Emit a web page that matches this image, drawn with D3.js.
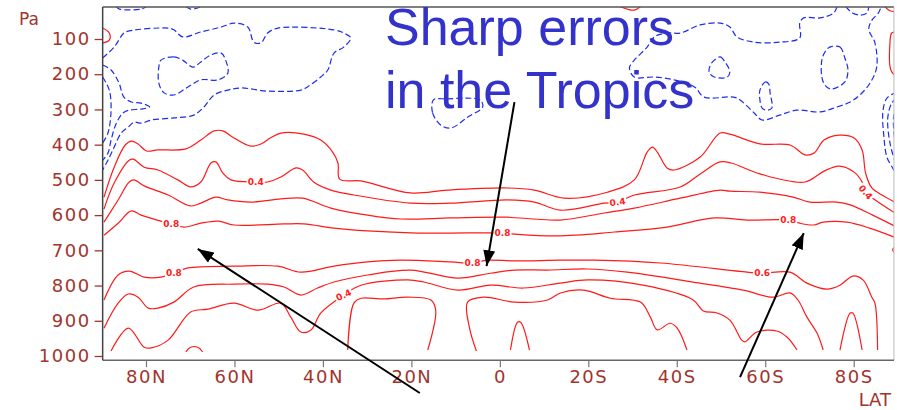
<!DOCTYPE html>
<html>
<head>
<meta charset="utf-8">
<script src="https://cdn.jsdelivr.net/npm/d3@7"></script>
<style>
  body { margin: 0; background: #fff; }
  svg { display: block; }
</style>
</head>
<body>
<svg width="897" height="410"></svg>
<script>
// axis ticks
const xTickValues = [80, 60, 40, 20, 0, -20, -40, -60, -80];
const xTickLabels = ['80N', '60N', '40N', '20N', '0', '20S', '40S', '60S', '80S'];
const yTickValues = [100, 200, 300, 400, 500, 600, 700, 800, 900, 1000];

// positive contours, [lat (N>0), pressure hPa]
const red02 = [[89.5,549],[87.2,464],[84.7,401],[83.3,390],[81.8,398],[79.9,418],[77.3,415],[71.0,412],[67.6,387],[64.6,361],[62.6,361],[60.1,381],[56.3,404],[54.0,398],[51.9,381],[49.5,367],[44.3,370],[40.5,387],[37.8,421],[36.6,452],[36.2,498],[31.4,503],[20.2,537],[11.8,529],[-1.7,523],[-7.8,529],[-14.6,552],[-24.3,535],[-30.4,500],[-33.3,421],[-34.5,407],[-35.6,421],[-37.8,466],[-39.4,472],[-45.3,435],[-49.8,367],[-52.0,370],[-58.8,398],[-65.6,401],[-69.0,429],[-71.0,424],[-73.3,387],[-76.7,373],[-80.1,381],[-81.9,415],[-82.7,481],[-84.1,523],[-86.8,546],[-89.7,566]];
const red04 = [[89.5,583],[87.2,509],[83.8,444],[82.9,441],[80.4,464],[77.3,472],[72.8,500],[69.9,520],[67.6,506],[65.3,452],[64.2,449],[62.6,481],[60.8,500],[55.2,506],[52.5,506],[49.5,492],[46.1,466],[44.6,472],[42.1,506],[38.2,529],[33.0,543],[20.2,566],[11.1,566],[-1.7,557],[-7.8,563],[-13.7,586],[-23.6,566],[-26.6,563],[-30.4,543],[-40.8,520],[-45.3,483],[-49.8,449],[-52.3,452],[-58.8,483],[-69.0,506],[-73.3,475],[-76.7,461],[-80.1,478],[-81.9,506],[-82.7,535],[-85.2,560],[-89.7,597]];
const red06 = [[89.5,620],[86.3,557],[83.8,506],[82.7,500],[80.4,517],[75.0,543],[69.9,574],[67.6,566],[64.2,549],[61.5,557],[56.3,563],[49.5,554],[44.6,552],[38.2,580],[29.9,600],[22.4,611],[11.1,608],[-1.7,606],[-7.8,611],[-13.7,614],[-23.6,594],[-30.4,580],[-40.8,552],[-49.8,529],[-52.0,532],[-58.8,535],[-66.3,549],[-70.1,563],[-76.2,563],[-79.2,571],[-84.3,600],[-89.7,634]];
const red08a = [[89.5,657],[86.3,623],[83.3,588],[81.1,600],[74.3,625],[71.4,634],[67.6,623],[63.7,617],[60.1,628],[48.8,625],[44.3,625],[37.5,637],[29.9,645],[18.6,651],[11.1,651],[-0.6,651],[-3.3,654],[-13.0,659],[-25.9,648],[-37.8,634],[-48.5,608],[-55.9,614],[-65.2,614],[-67.8,623],[-71.0,628],[-73.1,620],[-78.5,620],[-83.6,637],[-89.7,665]];
const red08b = [[89.5,841],[86.3,770],[83.8,759],[80.4,776],[76.6,776],[73.7,765],[70.5,750],[60.1,745],[50.2,745],[45.0,762],[37.5,745],[29.9,733],[22.4,728],[11.1,733],[6.2,736],[2.8,728],[-3.3,730],[-13.7,728],[-21.4,728],[-36.3,736],[-55.9,762],[-59.3,765],[-65.6,762],[-69.4,793],[-74.0,810],[-76.9,799],[-79.8,773],[-82.1,784],[-84.1,833],[-84.8,850],[-85.4,983]];
const red06b = [[89.5,921],[86.3,850],[84.0,824],[81.8,833],[79.5,864],[77.3,864],[73.7,847],[69.2,804],[60.1,796],[52.5,796],[48.8,804],[45.0,827],[41.2,807],[37.5,790],[29.9,770],[20.2,756],[9.5,779],[2.1,765],[-3.3,756],[-10.8,756],[-19.8,753],[-28.8,762],[-43.7,790],[-55.0,813],[-61.8,833],[-65.6,821],[-67.4,841],[-69.4,889],[-71.7,935],[-73.1,983]];
const red04b = [[87.9,986],[84.0,921],[80.4,975],[78.8,977],[75.0,955],[69.9,875],[66.0,867],[60.1,850],[54.7,870],[49.5,850],[47.3,889],[45.0,932],[42.7,926],[40.5,878],[35.3,827],[31.4,799],[20.8,784],[17.2,790],[9.5,813],[2.1,799],[-5.3,807],[-13.7,793],[-19.8,784],[-32.4,799],[-43.7,841],[-46.0,872],[-49.1,878],[-52.0,898],[-54.7,955],[-55.4,960],[-58.1,932],[-62.6,929],[-64.9,946],[-67.2,983]];
const red02s = [[5.3,986],[6.9,918],[7.3,847],[3.7,833],[-3.3,847],[-10.8,841],[-13.7,821],[-18.9,813],[-25.0,836],[-31.8,847],[-34.0,889],[-35.6,926],[-38.5,907],[-40.1,921],[-42.3,983]];
const red02n = [[34.4,983],[33.0,850],[31.4,836],[26.3,838],[20.8,833],[15.6,841],[14.5,870],[16.3,983]];
const redEq = [[-2.4,983],[-4.0,904],[-4.7,904],[-6.7,983]];
const red80S = [[-76.9,983],[-79.2,878],[-79.8,878],[-81.9,983]];
const red68N = [[71.0,988],[69.9,975],[68.3,975],[67.2,988]];
const redEdgeL = [[89.8,69],[88.3,83],[88.3,103],[89.8,111]];
const redTop = [[-27.2,8],[-30.4,18],[-31.8,8]];
const redCorner = [[-87.0,8],[-88.2,20],[-89.7,23]];
const redEdgeR = [[-89.7,80],[-88.6,83],[-88.2,111],[-88.4,188],[-89.7,208]];
const redEdgeR2 = [[-89.7,685],[-88.8,699],[-89.7,711]];

// negative contours (dashed)
const blueNW = [[89.8,154],[87.2,123],[85.0,83],[83.8,77],[75.0,69],[73.7,74],[71.7,94],[67.6,80],[63.0,66],[60.1,55],[57.0,66],[55.6,109],[54.0,111],[52.5,83],[50.2,69],[37.5,74],[35.3,83],[33.7,97],[35.3,123],[37.5,140],[38.9,188],[40.5,208],[43.5,236],[45.0,245],[52.5,248],[58.5,239],[61.5,245],[64.6,259],[66.9,293],[69.2,316],[73.7,324],[78.8,330],[81.1,339],[82.7,336],[84.0,350],[85.6,367],[87.2,407],[88.6,444],[89.8,472]];
const blueNW2 = [[89.8,174],[87.9,188],[86.1,225],[85.0,265],[83.3,279],[81.1,282],[79.2,293],[81.1,299],[83.8,302],[85.2,310],[86.7,339],[87.9,387],[88.6,424],[89.8,444]];
const blueNW3 = [[89.8,208],[88.3,245],[87.9,302],[88.6,367],[89.8,395]];
const blueNWloop = [[76.6,160],[73.7,151],[71.7,160],[69.4,180],[67.6,165],[65.3,145],[63.0,140],[62.0,160],[61.5,197],[63.7,216],[67.6,216],[70.5,236],[73.7,259],[75.9,253],[77.1,225],[77.1,180]];
const blueTop1 = [[86.7,8],[86.0,15],[81.1,15],[79.9,8]];
const blueTop2 = [[71.0,8],[69.9,15],[68.3,12],[67.6,8]];
const blueEqLoop = [[15.0,273],[15.2,310],[13.4,344],[11.1,353],[7.3,322],[3.9,293],[4.4,273],[7.3,268],[11.8,270]];
const blueSH = [[-76.2,8],[-75.5,26],[-72.4,40],[-68.7,40],[-67.8,55],[-67.8,97],[-63.3,109],[-57.5,109],[-53.6,94],[-52.0,66],[-49.8,55],[-45.3,60],[-40.8,83],[-37.8,83],[-34.9,94],[-33.3,123],[-30.4,160],[-29.3,182],[-30.4,208],[-34.9,208],[-39.4,216],[-44.0,236],[-46.2,265],[-52.9,265],[-54.3,273],[-57.5,310],[-59.3,330],[-63.3,316],[-67.2,302],[-72.4,307],[-76.2,293],[-79.2,279],[-81.4,259],[-83.7,225],[-85.2,180],[-84.8,111],[-83.4,72],[-84.2,45],[-85.6,26],[-86.2,8]];
const blueTri = [[-48.5,160],[-49.8,151],[-50.9,165],[-52.0,194],[-51.4,208],[-48.5,208],[-47.3,194],[-47.6,174]];
const blueNarrow = [[-58.8,245],[-60.0,222],[-60.8,228],[-61.1,253],[-61.5,296],[-60.4,302],[-59.3,296],[-58.8,273]];
const blueOval = [[-74.6,123],[-76.9,123],[-78.0,154],[-78.7,188],[-78.0,222],[-74.8,242],[-73.5,231],[-72.8,208],[-72.8,160],[-73.5,137]];
const blueTopR = [[-78.2,8],[-79.7,26],[-81.6,32],[-83.0,26],[-83.4,8]];
const blueEdge1 = [[-89.7,251],[-87.5,268],[-86.6,307],[-86.8,373],[-87.5,435],[-88.8,466],[-89.7,486]];
const blueEdge2 = [[-89.7,268],[-88.6,282],[-87.7,324],[-88.2,395],[-89.3,444],[-89.7,452]];
const blueEdge3 = [[-89.7,287],[-89.0,324],[-89.3,387],[-89.7,410]];

const redOpen = [red02, red04, red06, red08a, red08b, red06b, red04b, red02s, red02n, redEq, red80S, red68N, redEdgeL, redTop, redCorner, redEdgeR, redEdgeR2];
const blueOpen = [blueNW, blueNW2, blueNW3, blueTop1, blueTop2, blueSH, blueTopR, blueEdge1, blueEdge2, blueEdge3];
const blueClosed = [blueNWloop, blueEqLoop, blueTri, blueNarrow, blueOval];

// contour labels [lat, p, text, angle]
const contourLabels = [[55.2,506,'0.4',0],[74.3,625,'0.8',0],[-26.6,563,'0.4',-8],[-65.2,614,'0.8',0],[-82.7,535,'0.4',50],[-0.6,651,'0.8',0],[73.7,765,'0.8',0],[6.2,736,'0.8',0],[-59.3,765,'0.6',0],[35.3,827,'0.4',-25]];

// annotation arrows [from lat, from p, to lat, to p]
const arrows = [[-3.3,279,3.0,745],[18.1,1105,68.3,696],[-54.3,1060,-68.7,651]];
const noteLines = ['Sharp errors', 'in the Tropics'];

const svg = d3.select('svg');
const x = d3.scaleLinear().domain([80, -80]).range([146, 853.7]);
const y = d3.scaleLinear().domain([100, 1000]).range([39, 356]);
const plotLeft = x(89.8), plotRight = x(-89.1), plotTop = y(9), plotBottom = y(1012);
const brown = '#a0352d';

const defs = svg.append('defs');
defs.append('clipPath').attr('id', 'plot')
  .append('rect').attr('x', plotLeft).attr('y', plotTop)
  .attr('width', plotRight - plotLeft).attr('height', plotBottom - plotTop);

const line = d3.line().x(d => x(d[0])).y(d => y(d[1])).curve(d3.curveCatmullRom.alpha(0.5));
const loop = d3.line().x(d => x(d[0])).y(d => y(d[1])).curve(d3.curveCatmullRomClosed.alpha(0.5));

const g = svg.append('g').attr('clip-path', 'url(#plot)');

g.selectAll('path.pos').data(redOpen).enter().append('path')
  .attr('class', 'pos').attr('d', line)
  .attr('fill', 'none').attr('stroke', '#ff1a1a').attr('stroke-width', 1.2);

g.selectAll('path.neg').data(blueOpen).enter().append('path')
  .attr('class', 'neg').attr('d', line)
  .attr('fill', 'none').attr('stroke', '#1f2cf0').attr('stroke-width', 1.2)
  .attr('stroke-dasharray', '6,3');

g.selectAll('path.negc').data(blueClosed).enter().append('path')
  .attr('class', 'negc').attr('d', loop)
  .attr('fill', 'none').attr('stroke', '#1f2cf0').attr('stroke-width', 1.2)
  .attr('stroke-dasharray', '6,3');

// contour labels with a white gap
const lab = g.selectAll('g.lab').data(contourLabels).enter().append('g')
  .attr('class', 'lab')
  .attr('transform', d => `translate(${x(d[0])},${y(d[1])}) rotate(${d[3]})`);
lab.append('rect').attr('x', -9).attr('y', -5).attr('width', 18).attr('height', 10).attr('fill', '#fff');
lab.append('text').text(d => d[2])
  .attr('text-anchor', 'middle').attr('dy', '0.35em')
  .attr('font-family', 'DejaVu Sans').attr('font-size', 9).attr('font-weight', 'bold')
  .attr('fill', '#ff1a1a');

// frame
svg.append('line').attr('x1', plotLeft).attr('x2', plotRight).attr('y1', plotTop).attr('y2', plotTop)
  .attr('stroke', '#555').attr('stroke-width', 1.5);
svg.append('line').attr('x1', plotRight).attr('x2', plotRight).attr('y1', plotTop).attr('y2', plotBottom)
  .attr('stroke', '#bbb').attr('stroke-width', 1);
svg.append('line').attr('x1', plotLeft).attr('x2', plotRight).attr('y1', plotBottom).attr('y2', plotBottom)
  .attr('stroke', '#666').attr('stroke-width', 1.5);
svg.append('line').attr('x1', plotLeft).attr('x2', plotLeft).attr('y1', plotTop).attr('y2', plotBottom)
  .attr('stroke', '#444').attr('stroke-width', 1.5);

// y axis
const yAxis = svg.append('g').attr('transform', `translate(${plotLeft},0)`)
  .call(d3.axisLeft(y).tickValues(yTickValues).tickSize(8).tickPadding(4).tickFormat(d3.format('d')));
yAxis.select('.domain').remove();
yAxis.selectAll('line').attr('stroke', brown).attr('stroke-width', 1.3);
yAxis.selectAll('text').attr('fill', brown)
  .attr('font-family', 'DejaVu Sans').attr('font-size', 18).attr('letter-spacing', 1.5);

// x axis
const xAxis = svg.append('g').attr('transform', `translate(0,${plotBottom})`)
  .call(d3.axisBottom(x).tickValues(xTickValues).tickSize(7).tickPadding(3)
    .tickFormat((d, i) => xTickLabels[i]));
xAxis.select('.domain').remove();
xAxis.selectAll('line').attr('stroke', '#777').attr('stroke-width', 1.2);
xAxis.selectAll('text').attr('fill', brown)
  .attr('font-family', 'DejaVu Sans').attr('font-size', 18).attr('letter-spacing', 1.5);

svg.append('text').text('Pa').attr('x', 19).attr('y', 25)
  .attr('fill', brown).attr('font-family', 'DejaVu Sans').attr('font-size', 17);
svg.append('text').text('LAT').attr('x', 891).attr('y', 406).attr('text-anchor', 'end')
  .attr('fill', brown).attr('font-family', 'DejaVu Sans').attr('font-size', 18);

// annotation
svg.append('g').selectAll('text').data(noteLines).enter().append('text')
  .text(d => d)
  .attr('x', 385).attr('y', (d, i) => 45 + i * 63)
  .attr('fill', '#3333cc').attr('font-family', 'Liberation Sans, Arial, sans-serif').attr('font-size', 52);

defs.append('marker').attr('id', 'head')
  .attr('viewBox', '0 0 16 12').attr('refX', 16).attr('refY', 6)
  .attr('markerWidth', 16).attr('markerHeight', 12)
  .attr('markerUnits', 'userSpaceOnUse').attr('orient', 'auto')
  .append('path').attr('d', 'M0,0 L16,6 L0,12 Z').attr('fill', '#000');

svg.append('g').selectAll('line').data(arrows).enter().append('line')
  .attr('x1', d => x(d[0])).attr('y1', d => y(d[1]))
  .attr('x2', d => x(d[2])).attr('y2', d => y(d[3]))
  .attr('stroke', '#000').attr('stroke-width', 2)
  .attr('marker-end', 'url(#head)');
</script>
</body>
</html>
